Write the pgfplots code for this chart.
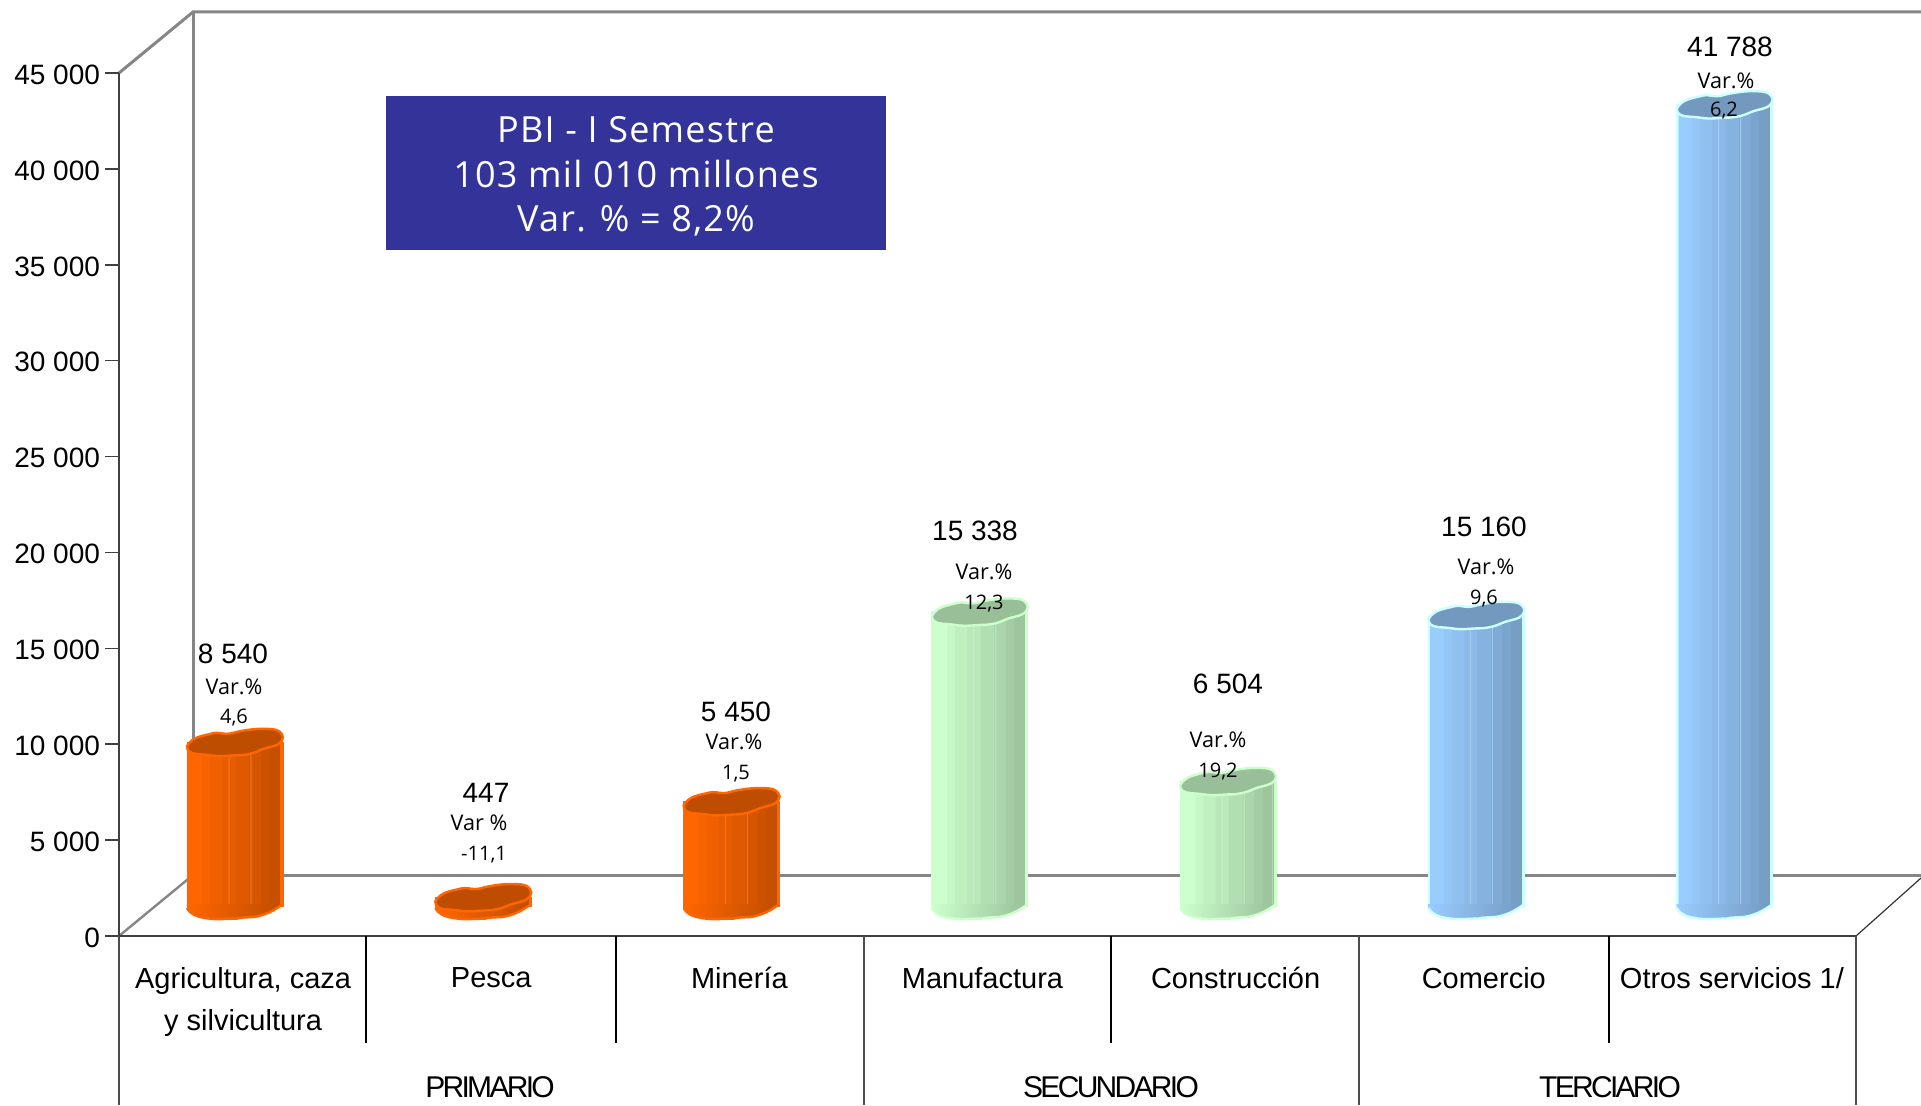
\documentclass[border=0pt]{standalone}
\usepackage{fontspec}
\setmainfont{Liberation Sans}
\newfontfamily\tahoma{Open Sans}
\newfontfamily\boxfont[LetterSpace=3.5]{Open Sans}
\newfontfamily\tightfont[LetterSpace=-9]{Liberation Sans}
\usepackage{pgfplots}
\usepackage{pgfplotstable}
\pgfplotsset{compat=1.18}

\pgfplotstableread{
x val base
0 8540 0
1 447 0
2 5450 0
}\primario
\pgfplotstableread{
x val base
3 15338 0
4 6504 0
}\secundario
\pgfplotstableread{
x val base
5 15160 0
6 41788 0
}\terciario

\definecolor{oBase}{HTML}{FF6600}\definecolor{oDark}{HTML}{BF4D00}\definecolor{oEdge}{HTML}{FF6600}
\definecolor{gBase}{HTML}{CCFFCC}\definecolor{gDark}{HTML}{99BF99}\definecolor{gEdge}{HTML}{CCFFCC}
\definecolor{bBase}{HTML}{99CCFF}\definecolor{bDark}{HTML}{7399BF}\definecolor{bEdge}{HTML}{CCFFFF}
\definecolor{wallgray}{HTML}{868686}
\definecolor{boxblue}{HTML}{333399}

% top face of a cylinder (sizes are half of the pixel sizes of the picture)
\pgfdeclareplotmark{topblob}{%
  \path[fill,draw]
    (-24pt,-2pt) to[out=60,in=195] (-11pt,4.5pt) to[out=15,in=182] (-4pt,4.2pt)
    to[out=2,in=190] (2.5pt,5.5pt) to[out=10,in=175] (19pt,6.5pt)
    to[out=-5,in=100] (24pt,2.5pt) to[out=-100,in=25] (12.5pt,-4pt)
    to[out=205,in=5] (2.5pt,-6.5pt) to[out=180,in=-10] (-12.5pt,-6.5pt)
    to[out=170,in=-90] (-24pt,-2pt) -- cycle;
}
% lower rim of a cylinder: only the part below the base of the facets
\newcommand{\declbot}[3]{%
  \pgfdeclareplotmark{bot#1}{%
    \path[draw=none,left color=#2,right color=#3]
      (-24pt,1pt) -- (-24pt,-1pt) to[out=-60,in=170] (-15pt,-6pt) to[out=-10,in=180] (1pt,-6.3pt)
      to[out=15,in=195] (12pt,-5pt) to[out=15,in=215] (24pt,1pt) -- cycle;
    \draw[#1Edge,line width=1.2pt]
      (-24pt,-1pt) to[out=-60,in=170] (-15pt,-6pt) to[out=-10,in=180] (1pt,-6.3pt)
      to[out=15,in=195] (12pt,-5pt) to[out=15,in=215] (24pt,1pt);}}
\declbot{o}{oBase}{oDark}
\declbot{g}{gBase}{gDark}
\declbot{b}{bBase}{bDark}

% one vertical facet: table, light colour, dark colour, percent of light, shift, width
\newcommand{\facet}[6]{%
  \addplot[ybar,bar width=#6pt,bar shift=#5pt,fill=#2!#4!#3,draw=#2!#4!#3,line width=0.1pt]
    table[x=x,y=val]{#1};}
\newcommand{\hair}[3]{%
  \addplot[ybar,bar width=0.3pt,bar shift=#3pt,fill=#2!75!white,draw=none]
    table[x=x,y=val]{#1};}
\newcommand{\cyl}[2]{%
  \addplot[ybar,bar width=48pt,bar shift=0pt,fill=#2Edge,draw=#2Edge] table[x=x,y=val]{#1};
  \addplot[only marks,mark=bot#2] table[x=x,y=base]{#1};
  \facet{#1}{#2Base}{#2Dark}{100}{-19}{8}
  \facet{#1}{#2Base}{#2Dark}{88}{-14}{4.5}
  \facet{#1}{#2Base}{#2Dark}{76}{-9}{6.5}
  \facet{#1}{#2Base}{#2Dark}{64}{-2.7}{7}
  \facet{#1}{#2Base}{#2Dark}{50}{4}{7}
  \facet{#1}{#2Base}{#2Dark}{36}{10.3}{6}
  \facet{#1}{#2Base}{#2Dark}{22}{15.3}{4.5}
  \facet{#1}{#2Base}{#2Dark}{10}{19.8}{5}
  \hair{#1}{#2Base}{-3}
  \hair{#1}{#2Base}{8}
  \addplot[only marks,mark=topblob,mark options={fill=#2Dark,draw=#2Edge,line width=1.2pt}]
    table[x=x,y=val]{#1};
}

\begin{document}
\begin{tikzpicture}
\clip (0pt,0pt) rectangle (960.5pt,552.5pt);
\path[use as bounding box] (0pt,0pt) rectangle (960.5pt,552.5pt);

\begin{scope}[x=0.5pt,y=-0.5pt,yshift=552.5pt]
% walls and floor
\draw[wallgray,line width=1.5pt] (119,73) -- (193,12) -- (1921,12);
\draw[wallgray,line width=1.5pt] (193,12) -- (193,875) -- (1921,875);
\draw[wallgray,line width=1.2pt] (119,936) -- (193,875);
\draw[black!80,line width=0.6pt] (1856,936) -- (1921,878);
\end{scope}

\begin{axis}[
  at={(59.5pt,84.5pt)},anchor=south west,
  scale only axis,width=868.5pt,height=431.5pt,
  xmin=0,xmax=7,ymin=0,ymax=45000,
  clip=false,
  axis x line=bottom,axis y line=left,
  axis line style={-,draw=black!75,line width=0.9pt},
  ytick={0,5000,10000,15000,20000,25000,30000,35000,40000,45000},
  xtick={0.5,1.5,2.5,3.5,4.5,5.5,6.5},
  xticklabels={{Agricultura, caza\\y silvicultura},Pesca,Minería,\hspace*{-5pt}Manufactura,Construcción,Comercio,Otros servicios 1/},
  x tick style={draw=none},
  y tick style={draw=black!75,line width=0.8pt},
  tick align=outside,
  major tick length=7pt,
  /pgf/number format/assume math mode=true,
  /pgf/number format/1000 sep={\kern3.9pt},
  scaled y ticks=false,
  yticklabel style={font=\fontsize{14}{16}\selectfont,xshift=1pt,yshift=-0.8pt},
  xticklabel style={font=\fontsize{14.5}{21}\selectfont,align=center,anchor=north,yshift=-5pt},
]
\addplot[draw=none] coordinates {(0,0) (7,45000)};
\end{axis}

% cylinders
\begin{axis}[
  at={(-6.65pt,99.5pt)},anchor=south west,
  scale only axis,width=993.15pt,height=431.5pt,
  xmin=-1,xmax=7,ymin=0,ymax=45000,
  clip=false,hide axis,
]
\cyl{\primario}{o}
\cyl{\secundario}{g}
\cyl{\terciario}{b}
\end{axis}

\begin{scope}[x=0.5pt,y=-0.5pt,yshift=552.5pt]
% category separators
\foreach \xx in {366,616,1111,1609} \draw[black,line width=0.6pt] (\xx,936) -- (\xx,1043);
\foreach \xx in {119,864,1359,1856} \draw[black!70,line width=0.6pt] (\xx,936) -- (\xx,1105);

% box
\fill[boxblue] (386,96) rectangle (886,250);
\begin{scope}[every node/.style={text=white,font=\boxfont\fontsize{18}{20}\selectfont,anchor=base,inner sep=0pt}]
\node at (636,143) {PBI - I Semestre};
\node at (636,188) {103 mil 010 millones};
\node at (636,232) {Var. \% = 8,2\%};
\end{scope}

% value labels
\begin{scope}[every node/.style={font=\fontsize{14}{16}\selectfont,anchor=center}]
\node at (233,654) {8 540};
\node at (486,793) {447};
\node at (736,712) {5 450};
\node at (975,531) {15 338};
\node at (1228,684) {6 504};
\node at (1484,527) {15 160};
\node at (1730,47) {41 788};
\end{scope}
\begin{scope}[every node/.style={font=\tahoma\fontsize{10.8}{12}\selectfont,anchor=center}]
\node at (234,687) {Var.\%};
\node at (479,823) {Var \%};
\node at (734,742) {Var.\%};
\node at (984,572) {Var.\%};
\node at (1218,740) {Var.\%};
\node at (1486,567) {Var.\%};
\node at (1726,81) {Var.\%};
\end{scope}
\begin{scope}[every node/.style={font=\tahoma\fontsize{10}{11}\selectfont,anchor=center}]
\node at (234,718) {4,6};
\node at (484,855) {-11,1};
\node at (736,774) {1,5};
\node at (984,604) {12,3};
\node at (1218,772) {19,2};
\node at (1484,599) {9,6};
\node at (1724,111) {6,2};
\end{scope}

% group labels
\begin{scope}[every node/.style={font=\tightfont\fontsize{15}{17}\selectfont,anchor=center}]
\node at (490,1087) {PRIMARIO};
\node at (1111,1087) {SECUNDARIO};
\node at (1610,1087) {TERCIARIO};
\end{scope}
\end{scope}
\end{tikzpicture}
\end{document}
